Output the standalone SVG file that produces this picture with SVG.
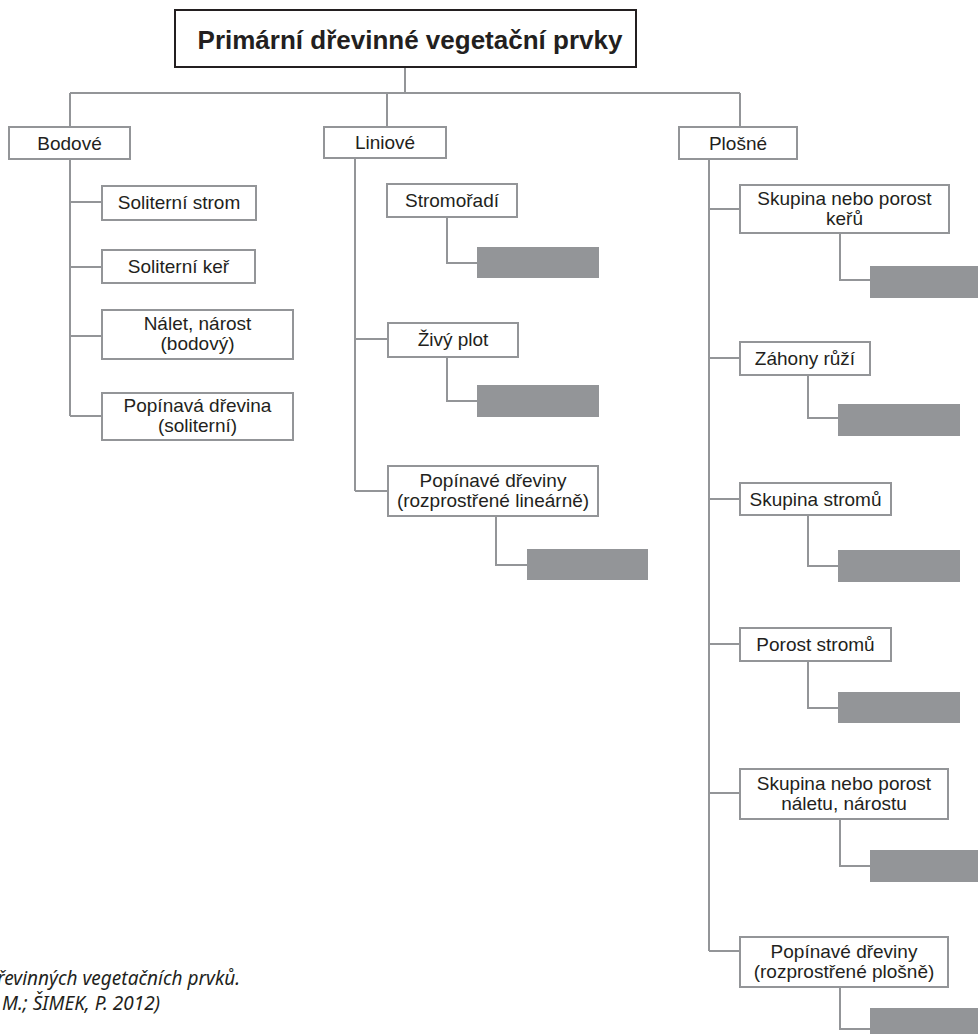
<svg xmlns="http://www.w3.org/2000/svg" width="978" height="1034" viewBox="0 0 978 1034">
<style>
.bg{fill:#ffffff}
.box{fill:#ffffff;stroke:#939598;stroke-width:2}
.gbox{fill:#939598;stroke:none}
.title{fill:#ffffff;stroke:#231f20;stroke-width:2}
.t{font-family:"Liberation Sans",Arial,sans-serif;font-size:19px;fill:#231f20;text-anchor:middle}
.tt{font-family:"Liberation Sans",Arial,sans-serif;font-size:26px;font-weight:bold;fill:#231f20;text-anchor:middle}
.cap{font-family:"Noto Sans",sans-serif;font-style:italic;font-size:19px;fill:#231f20}
.ln{fill:none;stroke:#939598;stroke-width:2}
</style>
<rect class="bg" x="0" y="0" width="978" height="1034"/>
<g id="connectors">
<path class="ln" d="M405 67V93M70 93H740M70 93V127M387 93V127M740 93V127"/>
<path class="ln" d="M70 159V416M70 202H102M70 267H102M70 336H102M70 416H102"/>
<path class="ln" d="M355 158V491M355 339H388M355 491H388"/>
<path class="ln" d="M447 217V263H477M447 357V401H477M496 516V565H527"/>
<path class="ln" d="M709 159V951M709 209H740M709 358H740M709 499H740M709 644H740M709 793H740M709 951H740"/>
<path class="ln" d="M840 233V280H870M808 375V418H838M808 515V566H838M808 661V708H838M840 819V866H870M840 987V1029H870"/>
</g>
<g id="title"><rect class="title" x="175" y="10" width="461" height="57"/><text class="tt" x="410" y="49">Primární dřevinné vegetační prvky</text></g>
<g id="bodove"><rect class="box" x="9" y="127" width="121" height="32"/><text class="t" x="69.5" y="150">Bodové</text></g>
<g id="liniove"><rect class="box" x="324" y="127" width="122" height="31"/><text class="t" x="385" y="149">Liniové</text></g>
<g id="plosne"><rect class="box" x="679" y="127" width="118" height="32"/><text class="t" x="738" y="150">Plošné</text></g>
<g id="soliterni-strom"><rect class="box" x="102" y="186" width="154" height="34"/><text class="t" x="179" y="209">Soliterní strom</text></g>
<g id="soliterni-ker"><rect class="box" x="102" y="250" width="153" height="33"/><text class="t" x="178.5" y="273">Soliterní keř</text></g>
<g id="nalet-bodovy"><rect class="box" x="102" y="310" width="191" height="49"/><text class="t" x="197.5" y="330">Nálet, nárost</text><text class="t" x="197.5" y="350">(bodový)</text></g>
<g id="popinava-drevina"><rect class="box" x="102" y="393" width="191" height="47"/><text class="t" x="197.5" y="412">Popínavá dřevina</text><text class="t" x="197.5" y="432">(soliterní)</text></g>
<g id="stromoradi"><rect class="box" x="387" y="184" width="130" height="33"/><text class="t" x="452" y="207">Stromořadí</text></g>
<g id="stromoradi-sub"><rect class="gbox" x="477" y="247" width="122" height="31"/></g>
<g id="zivy-plot"><rect class="box" x="388" y="323" width="130" height="34"/><text class="t" x="453" y="346">Živý plot</text></g>
<g id="zivy-plot-sub"><rect class="gbox" x="477" y="385" width="122" height="32"/></g>
<g id="popinave-linearne"><rect class="box" x="388" y="466" width="210" height="50"/><text class="t" x="493" y="487">Popínavé dřeviny</text><text class="t" x="493" y="507">(rozprostřené lineárně)</text></g>
<g id="popinave-linearne-sub"><rect class="gbox" x="527" y="549" width="121" height="31"/></g>
<g id="skupina-keru"><rect class="box" x="740" y="185" width="209" height="48"/><text class="t" x="844.5" y="205">Skupina nebo porost</text><text class="t" x="844.5" y="225">keřů</text></g>
<g id="skupina-keru-sub"><rect class="gbox" x="870" y="266" width="108" height="32"/></g>
<g id="zahony-ruzi"><rect class="box" x="740" y="342" width="130" height="33"/><text class="t" x="805" y="365">Záhony růží</text></g>
<g id="zahony-ruzi-sub"><rect class="gbox" x="838" y="404" width="122" height="32"/></g>
<g id="skupina-stromu"><rect class="box" x="740" y="483" width="151" height="32"/><text class="t" x="815.5" y="506">Skupina stromů</text></g>
<g id="skupina-stromu-sub"><rect class="gbox" x="838" y="550" width="122" height="32"/></g>
<g id="porost-stromu"><rect class="box" x="740" y="628" width="151" height="33"/><text class="t" x="815.5" y="651">Porost stromů</text></g>
<g id="porost-stromu-sub"><rect class="gbox" x="838" y="692" width="122" height="31"/></g>
<g id="skupina-naletu"><rect class="box" x="740" y="769" width="208" height="50"/><text class="t" x="844" y="790">Skupina nebo porost</text><text class="t" x="844" y="810">náletu, nárostu</text></g>
<g id="skupina-naletu-sub"><rect class="gbox" x="870" y="850" width="108" height="32"/></g>
<g id="popinave-plosne"><rect class="box" x="740" y="937" width="208" height="50"/><text class="t" x="844" y="958">Popínavé dřeviny</text><text class="t" x="844" y="978">(rozprostřené plošně)</text></g>
<g id="popinave-plosne-sub"><rect class="gbox" x="870" y="1008" width="108" height="26"/></g>
<g id="caption"><text class="cap" x="-3" y="985">řevinných vegetačních prvků.</text><text class="cap" x="2" y="1010">M.; ŠIMEK, P. 2012)</text></g>
</svg>
